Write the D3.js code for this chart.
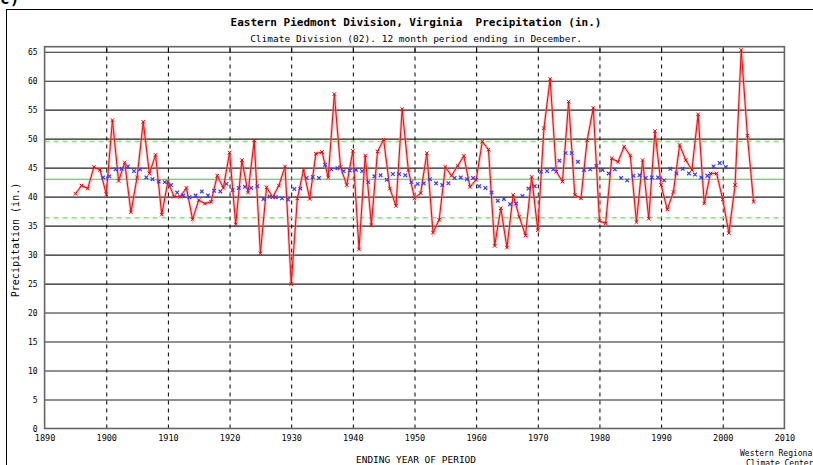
<!DOCTYPE html>
<html><head><meta charset="utf-8">
<script src="https://cdn.jsdelivr.net/npm/d3@7"></script>
<style>body{margin:0;background:#fff;overflow:hidden} svg{display:block;} text{font-family:"DejaVu Sans Mono",monospace;}</style>
</head><body>
<svg id="c" width="813" height="465"></svg>
<script>
// ---- data ----
const firstYear = 1895;
const precip = [
 40.5,41.9,41.4,45.1,44.6,
 40.4,53.2,42.7,45.9,37.3,43.3,52.9,44.0,47.2,36.9,
 42.6,40.0,40.0,41.5,36.1,39.4,38.8,39.1,43.6,41.5,
 47.6,35.2,46.3,40.7,49.7,30.2,41.6,39.9,41.9,45.2,
 24.9,39.7,44.6,39.6,47.4,47.7,43.3,57.7,45.1,42.0,
 47.9,30.9,47.1,35.1,47.8,49.8,41.4,38.4,55.1,44.6,
 39.7,40.6,47.5,33.8,36.0,45.1,43.6,45.3,47.0,41.7,
 42.9,49.5,48.1,31.5,38.0,31.2,40.3,36.5,33.3,43.4,
 34.2,51.8,60.3,44.3,42.6,56.4,40.3,39.7,49.7,55.3,
 35.8,35.4,46.6,46.0,48.6,47.1,35.6,46.3,36.2,51.3,
 42.0,37.8,40.8,48.9,46.3,44.6,54.2,38.8,44.0,44.0,
 39.5,33.7,42.0,65.3,50.5,39.1
];
const meanStart = 1899.5; // 10-year running mean, centred
const runningMean = [
 43.3,43.5,44.7,44.8,45.2,44.4,44.7,43.3,43.0,42.6,
 42.5,42.0,40.7,40.2,39.9,40.2,40.9,40.2,41.0,40.9,
 42.2,41.1,41.5,41.7,41.5,41.8,39.6,40.0,39.9,39.7,
 39.5,41.3,41.4,43.2,43.4,43.2,45.5,44.7,44.9,44.4,
 44.5,44.6,44.4,42.5,43.5,43.7,42.9,43.9,43.9,43.7,
 42.5,42.2,42.3,43.0,42.3,42.0,42.3,43.2,43.3,43.0,
 43.2,41.8,41.5,40.7,39.3,39.6,38.7,38.8,40.1,41.4,
 41.8,44.3,44.4,44.7,46.2,47.5,47.5,46.0,44.6,44.7,
 45.3,44.6,44.0,44.7,43.2,42.8,43.6,43.7,43.2,43.3,
 43.3,42.8,44.8,44.0,44.8,44.0,43.8,43.3,43.6,45.2,
 45.8,45.1
];
const normalMean = 43.0;
const normalBand = [49.5, 36.35];
const yTicks = [0,5,10,15,20,25,30,35,40,45,50,55,60,65];
const xTicks = [1890,1900,1910,1920,1930,1940,1950,1960,1970,1980,1990,2000,2010];
const decadeLines = [1900,1910,1920,1930,1940,1950,1960,1970,1980,1990,2000];

// ---- layout ----
const L = 44.6, R = 784.4, T = 46.7, B = 428.5;
const x = d3.scaleLinear().domain([1890, 2010]).range([L, R]);
const y = d3.scaleLinear().domain([0, 65]).range([B, 51.7]);

const svg = d3.select("#c");

// outer frame and panel letter
svg.append("rect").attr("x",6.5).attr("y",9.5).attr("width",830).attr("height",480)
  .attr("fill","none").attr("stroke","#000").attr("stroke-width",1);
svg.append("text").attr("x",0).attr("y",4).attr("font-size",16).attr("font-weight","bold").text("c)");

// titles
svg.append("text").attr("x",416).attr("y",26).attr("text-anchor","middle")
  .attr("font-size",11).attr("font-weight","bold").style("white-space","pre")
  .text("Eastern Piedmont Division, Virginia  Precipitation (in.)");
svg.append("text").attr("x",416).attr("y",42).attr("text-anchor","middle")
  .attr("font-size",9.5).text("Climate Division (02). 12 month period ending in December.");

// horizontal grid via axis
const gy = svg.append("g").attr("transform",`translate(${L},0)`)
  .call(d3.axisLeft(y).tickValues(yTicks).tickSize(-(R-L)).tickPadding(7).tickFormat(d3.format("d")));
gy.select(".domain").remove();
gy.selectAll(".tick line").attr("stroke","#222").attr("stroke-width",1.1)
  .filter(d => d === 0).remove();
gy.selectAll(".tick text").attr("font-size",8).attr("font-family","DejaVu Sans Mono").attr("fill","#000");

// vertical dashed decade lines
const gx = svg.append("g").attr("transform",`translate(0,${B})`)
  .call(d3.axisBottom(x).tickValues(decadeLines).tickSize(-(B-T)).tickFormat(""));
gx.select(".domain").remove();
gx.selectAll(".tick line").attr("stroke","#000").attr("stroke-width",1).attr("stroke-dasharray","4,4");

// top tick marks
const gt = svg.append("g").attr("transform",`translate(0,${T})`)
  .call(d3.axisTop(x).tickValues(decadeLines).tickSize(-(y(65)-T)).tickFormat(""));
gt.select(".domain").remove();
gt.selectAll(".tick line").attr("stroke","#000");

// x tick labels
const gl = svg.append("g").attr("transform",`translate(0,${B})`)
  .call(d3.axisBottom(x).tickValues(xTicks).tickSize(0).tickPadding(6).tickFormat(d3.format("d")));
gl.select(".domain").remove();
gl.selectAll(".tick text").attr("font-size",8.5).attr("font-family","DejaVu Sans Mono").attr("fill","#000");

// normal lines
svg.append("line").attr("x1",L).attr("x2",R).attr("y1",y(normalMean)).attr("y2",y(normalMean))
  .attr("stroke","#22dd22").attr("stroke-width",1.2);
svg.selectAll(".band").data(normalBand).join("line")
  .attr("x1",L).attr("x2",R).attr("y1",d=>y(d)).attr("y2",d=>y(d))
  .attr("stroke","#77ee66").attr("stroke-width",1.6).attr("stroke-dasharray","5,4");

// plot border
svg.append("rect").attr("x",L).attr("y",T).attr("width",R-L).attr("height",B-T)
  .attr("fill","none").attr("stroke","#666").attr("stroke-width",1.6);

// precipitation series
const pts = precip.map((v,i)=>({yr:firstYear+i, v}));
const line = d3.line().x(d=>x(d.yr)).y(d=>y(d.v));
svg.append("path").datum(pts).attr("d",line).attr("fill","none")
  .attr("stroke","#ff8888").attr("stroke-width",2.6).attr("stroke-opacity",0.6);
svg.append("path").datum(pts).attr("d",line).attr("fill","none")
  .attr("stroke","#ff0000").attr("stroke-width",1);
const xm = (s)=>`M${-s},${-s}L${s},${s}M${-s},${s}L${s},${-s}`;
svg.selectAll(".pm").data(pts).join("path")
  .attr("transform",d=>`translate(${x(d.yr)},${y(d.v)})`)
  .attr("d",xm(1.8)).attr("stroke","#ee0000").attr("stroke-width",1).attr("fill","none");

// running mean markers
const rm = runningMean.map((v,i)=>({yr:meanStart+i, v}));
svg.selectAll(".bm").data(rm).join("path")
  .attr("transform",d=>`translate(${x(d.yr)},${y(d.v)})`)
  .attr("d",xm(1.8)).attr("stroke","#3a3aff").attr("stroke-width",1.2).attr("fill","none");

// axis titles and credit
svg.append("text").attr("transform","translate(19,240) rotate(-90)").attr("text-anchor","middle")
  .attr("font-size",10).text("Precipitation (in.)");
svg.append("text").attr("x",416).attr("y",463).attr("text-anchor","middle")
  .attr("font-size",9.5).text("ENDING YEAR OF PERIOD");
svg.append("text").attr("x",740).attr("y",456).attr("font-size",8).text("Western Regional");
svg.append("text").attr("x",746).attr("y",466).attr("font-size",8).text("Climate Center");
</script>
</body></html>
